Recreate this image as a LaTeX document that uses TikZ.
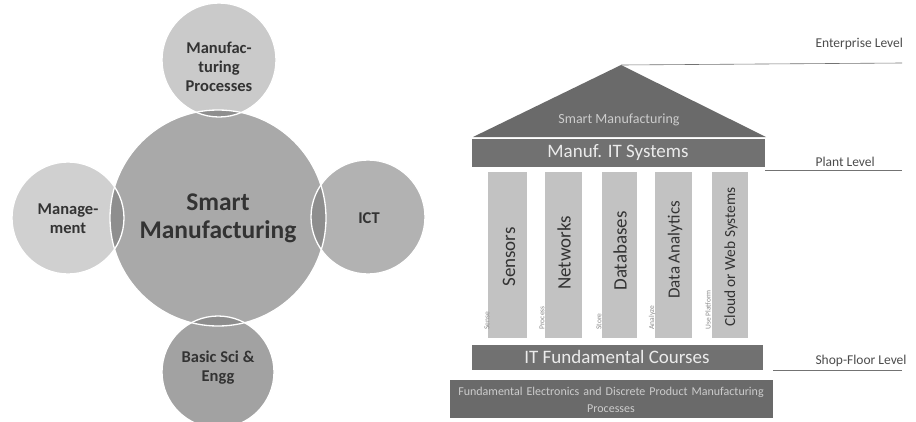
\documentclass[tikz,border=0pt]{standalone}
\usepackage{fontspec}
\setmainfont{Carlito}
\definecolor{bigc}{HTML}{A9A9A9}
\definecolor{topc}{HTML}{CACACA}
\definecolor{leftc}{HTML}{D0D0D0}
\definecolor{rightc}{HTML}{B2B2B2}
\definecolor{botc}{HTML}{A2A2A2}
\definecolor{lens}{HTML}{8E8E8E}
\definecolor{roof}{HTML}{6A6A6A}
\definecolor{barc}{HTML}{717171}
\definecolor{pill}{HTML}{C2C2C2}
\definecolor{ink}{HTML}{333333}
\begin{document}
\begin{tikzpicture}[x=1pt,y=-1pt,
  ctext/.style={font=\bfseries\fontsize{16.5}{19}\selectfont, text=ink, align=center},
  ring/.style={draw=white, line width=1.3pt},
  barbox/.style={fill=barc, draw=none},
  bartext/.style={text=white!92!black, align=center},
  pillar/.style={fill=pill, draw=none},
  ptext/.style={rotate=90, text=ink, font=\fontsize{19}{22}\selectfont},
  smalltag/.style={rotate=90, text=black!45, font=\fontsize{7.5}{9}\selectfont},
  lvl/.style={text=black!70, font=\fontsize{13.5}{15}\selectfont, anchor=south west},
  lvlline/.style={draw=black!55, line width=0.6pt}]
\useasboundingbox (0,0) rectangle (916,421);
\fill[white] (0,0) rectangle (916,421);
% ---------- left: circles ----------
\coordinate (cB) at (218,218);
\coordinate (cT) at (219,60);
\coordinate (cL) at (68,218);
\coordinate (cR) at (368,217);
\coordinate (cD) at (218,372);
\fill[topc] (cT) circle (57);
\fill[leftc] (cL) circle (56);
\fill[rightc] (cR) circle (57);
\fill[botc] (cD) circle (56);
\fill[bigc] (cB) circle (108);
\begin{scope}
  \clip (cB) circle (108);
  \fill[lens] (cT) circle (57);
  \fill[lens] (cL) circle (56);
  \fill[lens] (cR) circle (57);
  \fill[lens] (cD) circle (56);
\end{scope}
\draw[ring] (cT) circle (57);
\draw[ring] (cL) circle (56);
\draw[ring] (cR) circle (57);
\draw[ring] (cD) circle (56);
\draw[ring] (cB) circle (108);
\node[ctext, font=\bfseries\fontsize{25.5}{28}\selectfont] (sm) at (218,218) {Smart\\Manufacturing};
\node[ctext] (mp) at (219,67) {Manufac-\\turing\\Processes};
\node[ctext] (mg) at (68,219) {Manage-\\ment};
\node[ctext] (ict) at (369,218) {ICT};
\node[ctext] (bs) at (218,368) {Basic Sci \&\\Engg};
% ---------- right: temple ----------
\coordinate (apex) at (621,65);
\coordinate (rl) at (473,137);
\coordinate (rr) at (766,137);
\fill[roof] (apex) -- (rr) -- (rl) -- cycle;
\node[bartext, font=\fontsize{14}{16}\selectfont, text=white!80!black] (roofT) at (619,120) {Smart Manufacturing};
\fill[barbox] (472,139) rectangle (765,167);
\node[bartext, font=\fontsize{19}{22}\selectfont] (itsys) at (618,153) {Manuf. IT Systems};
% pillars
\fill[pillar] (488,172) rectangle (527,338);
\fill[pillar] (545,172) rectangle (582,338);
\fill[pillar] (602,172) rectangle (637,338);
\fill[pillar] (655,172) rectangle (692,338);
\fill[pillar] (712,172) rectangle (748,338);
\node[ptext] (p1) at (509,257) {Sensors};
\node[ptext] (p2) at (564,253) {Networks};
\node[ptext] (p3) at (620,251) {Databases};
\node[ptext, font=\fontsize{17}{20}\selectfont] (p4) at (675,250) {Data Analytics};
\node[ptext, font=\fontsize{15.4}{18}\selectfont] (p5) at (731,257) {Cloud or Web Systems};
\node[smalltag, anchor=west] (s1) at (487,333) {Sense};
\node[smalltag, anchor=west] (s2) at (542,333) {Process};
\node[smalltag, anchor=west] (s3) at (599,333) {Store};
\node[smalltag, anchor=west] (s4) at (652,333) {Analyze};
\node[smalltag, anchor=west] (s5) at (708,333) {Use Platform};
% base bars
\fill[barbox] (472,345) rectangle (763,370);
\node[bartext, font=\fontsize{19}{22}\selectfont] (itf) at (617,357) {IT Fundamental Courses};
\fill[barbox, fill=roof] (450,380) rectangle (773,418);
\node[bartext, font=\fontsize{12}{17}\selectfont, text width=322pt, text=white!80!black] (fe) at (611,400) {Fundamental Electronics and Discrete Product Manufacturing\\Processes};
% ---------- levels ----------
\coordinate (e2) at (902,63);
\coordinate (p0) at (765,170);
\coordinate (p2) at (902,170);
\coordinate (f0) at (773,370);
\coordinate (f2) at (902,370);
\draw[lvlline] (apex) -- (e2);
\draw[lvlline] (p0) -- (p2);
\draw[lvlline] (f0) -- (f2);
\node[lvl] (el) at (812,53) {Enterprise Level};
\node[lvl] (pl) at (812,170) {Plant Level};
\node[lvl] (sl) at (812,370) {Shop-Floor Level};
\end{tikzpicture}
\end{document}
